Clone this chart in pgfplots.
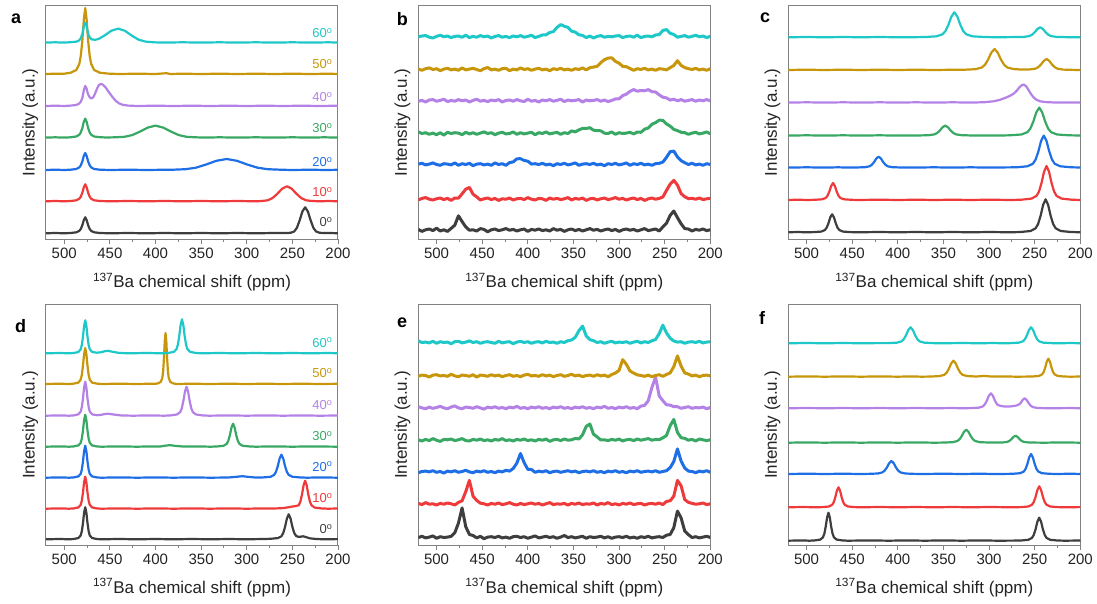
\documentclass[border=0pt]{standalone}
\usepackage{fontspec}
\setmainfont{Liberation Sans}
\usepackage{pgfplots}
\usepackage{pgfplotstable}
\pgfplotsset{compat=1.18}

\definecolor{c0}{RGB}{62,62,62}
\definecolor{c10}{RGB}{238,58,58}
\definecolor{c20}{RGB}{30,110,230}
\definecolor{c30}{RGB}{56,168,100}
\definecolor{c40}{RGB}{180,130,230}
\definecolor{c50}{RGB}{200,150,10}
\definecolor{c60}{RGB}{30,200,200}
\definecolor{axgray}{RGB}{130,130,130}
\definecolor{txt}{RGB}{35,35,35}

% noisy spectra of panel b, intensities above each trace's own baseline
\pgfplotstableread{
x k0 k10 k20 k30 k40 k50 k60
520 0.6 -1 0.2 1.4 -0.6 0.2 -0.2
516 -1.4 0.6 1 -0.2 0.2 -1 0.6
512 0.2 1.4 -0.6 0.6 -1.4 0.6 1
508 1 -0.2 0.2 -1 0.6 1.4 -0.6
504 -0.6 -1 1.4 0.2 1 -0.2 -1.4
500 1.8 0.2 -0.2 -1.4 -0.6 0.6 0.2
496 -1 1 -1 0.6 0.2 -1.4 1.4
492 0.2 -0.6 0.6 -1.8 1.4 0.2 -0.2
488 -1.4 0.6 0.2 1 -1 1 0.6
484 1.6 -1.4 -0.6 -0.2 0.2 -0.6 -1
480 4.8 1 1.4 0.6 -0.6 0.2 0.2
476 14.2 0.9 -1 0.2 1 -1 0.6
472 8.4 5.2 0.6 -1.4 -0.2 1.4 -0.6
468 3.1 9.8 -0.2 1 0.6 -0.6 1.4
464 -0.2 11.6 1 -0.6 -1.4 0.2 -1
460 0.2 4.8 -1.4 0.6 0.2 1 0.2
456 -1 2.1 0.2 -1 1.4 -0.2 -0.6
452 1.4 -1 0.6 0.2 -0.6 -1.4 1
448 0.6 0.2 -0.6 1.4 0.2 0.6 -0.2
444 -1.8 1 0.2 -0.2 -1 1.8 0.6
440 0.2 -0.6 -1 0.6 0.6 -0.6 -1.4
436 1 0.6 1.4 -1.4 -0.2 0.2 0.2
432 -0.6 -1.4 -0.2 0.2 1 -1 1
428 0.2 0.2 0.6 1 -1.4 0.6 -0.6
424 1.4 -0.2 -1 -0.6 0.2 1 0.2
420 -0.2 1 1.7 -0.2 0.6 -1.4 -1
416 0.6 -1 2.4 1.4 -0.6 0.2 0.6
412 -1 0.2 5.5 -1 1 -0.6 -0.2
408 0.2 0.6 5.6 0.6 -0.2 1.4 1
404 1 -0.6 3.8 -0.6 -1 -0.2 -0.6
400 -1.4 1.4 3.1 0.2 1.4 0.6 0.2
396 0.6 -0.2 0.2 1 -0.6 -1 1.4
392 -0.2 -1 0.6 -1.4 0.2 0.2 -1
388 1 0.6 -0.2 0.6 -1.4 1 0.2
384 -0.6 0.2 1 -0.2 0.6 -0.6 1.6
380 0.2 -1.4 -0.6 1.4 -0.2 0.2 1.8
376 -1 1 0.2 -0.6 1 -1.4 4.1
372 1.4 -0.2 -1.4 0.2 -0.6 0.6 5
368 -0.2 0.6 0.6 1 0.2 -0.2 9.2
364 0.6 -0.6 -0.2 -1 1.4 1 12
360 -1.4 0.2 1 0.6 -1 -0.6 10.4
356 0.2 1.4 -0.6 -0.2 0.6 0.2 9.2
352 1 -1 0.2 2.4 -0.2 -1 5.4
348 -0.6 0.6 1.4 1.4 0.2 0.6 4.5
344 0.6 -0.2 -1 3.4 1 -0.2 1.8
340 -1 1 0.2 4.9 -1.4 1.4 1.2
336 0.2 -1.4 0.6 4.8 0.6 -0.6 -1
332 1.4 0.2 -0.2 5.6 -0.2 1.6 0.6
328 -0.2 0.6 1 3.1 0.2 2.2 -1.4
324 0.6 -1 -0.6 2.7 1 3 0.2
320 -1 0.2 0.2 2.5 -0.6 6.7 1
316 0.2 1 -1.4 0.1 0.6 9.6 -0.6
312 1 -0.6 0.6 -0.2 -1 11.2 0.2
308 -0.6 0.2 -0.2 1.4 0.2 11.5 -0.2
304 0.6 1.4 1 -1 1.6 7.9 0.6
300 -1.4 -0.2 -0.6 0.6 1.8 6.2 1
296 0.2 0.6 0.2 -0.2 5 2.9 -1
292 1 -1 1.4 0.2 6.4 2.6 0.2
288 -0.2 0.2 -1 1 9.2 0.8 0.6
284 0.6 1 0.6 -0.6 11 -1 -0.6
280 -1 -0.6 -0.2 1.2 9.4 0.6 1.4
276 0.2 0.6 1 1 10.1 -0.2 -1
272 1.4 -1.4 -0.6 4.1 9.8 1 0.2
268 -0.6 0.2 0.2 5.3 11 -0.6 0.6
264 0.2 1 -1 9 8.9 0.2 -0.2
260 1 -0.2 0.6 10.7 8.6 -1 1.6
256 -1 0.6 1 13.1 5.8 0.6 2
252 3.1 2 2.2 13 3.4 0.2 6.1
248 6.8 8.6 7 9.4 2.7 -0.6 7
244 14.6 14.8 12.6 7.2 0.5 1.6 3.3
240 19 18.6 13.2 3.9 1.4 3.8 2.1
236 12.4 14 7.4 2.7 -0.2 8.6 -0.6
232 6.2 5.4 3.6 1 1 3.9 0.2
228 1.4 2.2 1.6 0.6 -0.6 1.7 1
224 1 0.4 -0.2 -1 0.2 0.6 -0.6
220 -1 0.6 1 0.2 1 -0.2 0.2
216 0.6 -0.2 -0.6 1 -0.6 1 1.4
212 -0.2 1 0.2 -0.6 0.6 -0.6 -0.2
208 1 -0.6 -1 0.2 -0.2 0.2 0.6
204 -0.6 0.2 0.6 1.4 1 -1 -1
200 0.2 0.6 -0.2 -0.6 -0.2 0.6 0.2
}\tabB

% noisy spectra of panel e
\pgfplotstableread{
x k0 k10 k20 k30 k40 k50 k60
520 -0.2 0.6 -1 0.2 1 -0.6 1.4
516 1 -0.6 0.2 -1 -0.2 0.6 -0.2
512 -0.6 1.4 0.6 0.6 -1 0.2 0.2
508 0.2 -0.2 -0.2 -0.6 0.6 -1.4 -0.6
504 1.4 0.2 1 1.4 -0.6 0.6 1
500 -1 -1 -0.6 -0.2 0.2 1 -1
496 0.6 0.6 0.2 -1.4 1.4 -0.2 0.6
492 -0.2 -0.2 -1.4 0.6 -0.2 0.2 -0.2
488 0.2 1 0.6 0.2 -1 -0.6 0.2
484 0.9 0.2 -0.2 1 0.6 1.4 -1.4
480 4.5 -1 1 -0.6 1.8 -0.2 0.6
476 14.2 1.6 -0.6 0.2 -0.2 -1 1
472 29.4 3.2 0.2 1.4 -1 0.6 -0.6
468 10.6 12.4 1.4 -0.6 0.6 0.2 0.2
464 2.8 23.6 -0.2 -1 0.2 -0.6 1.4
460 1.8 7.8 -1 0.6 -0.6 1 -0.2
456 -0.6 3.6 0.6 -0.2 1 -1.4 0.6
452 1 0.8 -0.2 1 -0.2 0.6 -1
448 -1.4 0.2 1 -0.6 -1.4 0.2 0.2
444 0.2 -1 -0.6 0.2 0.6 -0.6 0.6
440 0.6 0.6 0.2 -1 -0.2 1 -0.2
436 -0.2 -0.2 -1 0.6 1 -0.2 -1
432 1 1 0.6 -0.2 -0.6 0.6 1
428 -0.6 -0.6 -0.2 1.4 0.2 -1 -0.6
424 0.2 0.2 1.4 -0.6 -1 0.2 0.2
420 -1 1.4 0.6 0.2 0.6 1 0.6
416 0.6 -0.2 3.2 -1 -0.2 -0.6 -1.4
412 1 -1 8.6 0.6 1.4 0.2 0.2
408 -0.2 0.6 18.2 -0.2 -0.6 -1 1
404 0.6 -0.6 9 1 0.2 0.6 -0.2
400 -1 0.2 2.4 -0.6 -1 1.4 0.6
396 0.2 1 2.2 0.2 0.6 -0.2 -1
392 1.4 -0.2 -0.6 -1 -0.2 0.2 0.2
388 -0.6 0.6 0.6 0.6 1 -0.6 0.6
384 0.2 -1 -0.2 -0.2 -0.6 1 -0.6
380 1 0.2 1 1 0.2 -0.2 1
376 -0.2 1.4 -1 -1.4 -1 0.6 -0.2
372 0.6 -0.6 0.2 0.2 0.6 -1 0.2
368 -1 0.2 0.6 0.6 -0.2 0.2 -1
364 0.2 -0.2 -0.6 -0.6 1 1 0.6
360 1.8 0.6 0.2 1 -0.6 -0.6 -0.2
356 -0.2 -1 1 -0.2 0.2 0.2 1.6
352 0.6 0.6 -0.2 0.2 -1 1.4 2.3
348 -0.6 -0.2 0.6 1.6 0.6 -0.2 5
344 0.2 1 -1 1 -0.2 0.6 11.6
340 1 -0.6 0.2 5.2 1 -1 16.2
336 -1 0.2 0.6 13.6 -0.6 0.2 6.4
332 0.6 -0.2 -0.2 16 0.2 0.6 2.7
328 -0.2 1 1 5.8 -1 -0.6 1.6
324 0.2 -1 -0.6 3.1 0.6 1 -0.2
320 1 0.6 0.2 0 -0.2 -0.2 0.6
316 -0.6 -0.2 -1 0.2 1.4 0.6 -1
312 0.6 1.4 0.6 -0.6 -0.6 -1 0.2
308 -1 -0.6 -0.2 0.6 0.2 1.2 1
304 0.2 0.2 1 -0.2 -1 2.6 -0.6
300 0.6 -1 -0.6 1 0.6 5.3 0.2
296 -0.2 0.6 0.2 -1 -0.2 16 -0.2
292 1 -0.2 -1 0.2 1 11.4 0.6
288 -0.6 1 0.6 0.6 -0.6 4.7 -1
284 0.2 -0.6 -0.2 -0.6 0.2 2.6 0.2
280 -1 0.2 1 1 -1 0.8 1
276 0.6 0.6 -0.6 -0.2 1.6 0.2 -0.6
272 -0.2 -1 0.2 0.6 2.3 -0.6 0.6
268 1 0.2 0.6 1.4 7 0.6 -0.2
264 -0.6 0.6 -0.2 -0.2 20.2 -1 1.6
260 0.2 -0.2 1 0.6 30.6 0.2 2.8
256 0.6 1 -0.6 0.4 11.8 1 8.6
252 -0.2 -0.6 0.2 2.2 7 -0.6 17.2
248 2.1 2.6 1 4.6 2.9 1.2 9.4
244 2.8 3.2 4.1 14.2 2.6 2.8 4.1
240 9.6 7.8 10.2 20.6 1 9 1.3
236 26.2 23.6 22.8 7.6 1 19.8 0.2
232 19.4 18.2 10.6 2.3 -0.6 9.6 0.6
228 6.2 4.4 3.7 1.6 0.2 2.8 -1
224 2.6 1.7 0.6 -0.2 1 1.6 0.2
220 -0.2 0.6 0.2 0.6 -0.6 -0.2 0.6
216 0.6 -0.2 -1 -1 0.2 0.6 -0.2
212 -0.6 0.2 0.6 1 -0.2 -1 1
208 0.2 1 -0.2 0.2 0.6 0.2 -0.6
204 1 -0.6 1 -0.6 -1 0.6 0.2
200 -0.2 0.2 -0.6 0.2 0.2 -0.2 0.6
}\tabE

\pgfplotsset{
  nmr/.style={
    scale only axis, width=292pt,
    xmin=200, xmax=520, x dir=reverse, ymin=0,
    xtick={200,250,...,500}, minor x tick num=1,
    ytick=\empty, xtick pos=left,
    tick align=outside,
    major tick length=5pt, minor tick length=3pt,
    every tick/.style={axgray, line width=0.9pt},
    axis line style={axgray, line width=1pt},
    tick label style={font=\fontsize{15}{18}\selectfont, text=txt},
    /pgf/number format/assume math mode=true,
    xlabel={\textsuperscript{137}Ba chemical shift (ppm)},
    ylabel={Intensity (a.u.)},
    label style={font=\fontsize{17}{20}\selectfont, text=txt},
    xlabel style={at={(axis description cs:0.5,0)}, anchor=base, yshift=-48pt},
    ylabel style={at={(axis description cs:-0.054,0.5)}, anchor=center},
    every axis plot/.append style={line width=2.2pt, line join=round},
  },
  noisy/.style={every axis plot/.append style={line width=3pt}},
  base/.style={y filter/.expression={y+#1}},
}
\tikzset{deg/.style={anchor=east, font=\fontsize{13}{15}\selectfont}}

\begin{document}
\begin{tikzpicture}
\path[use as bounding box] (0pt,0pt) rectangle (1097pt,603pt);

% ---------------- panel a ----------------
\begin{axis}[nmr, at={(46pt,363.7pt)}, anchor=south west, height=234pt, ymax=234]
\addplot[c0, base=6] coordinates {(520,0)(510,0.3)(500,0)(493,0.3)(486.8,1)(483.5,2.4)(481.9,4.3)(480.2,8)(478.6,13.1)(477,16)(475.4,13.1)(473.8,8)(472.1,4.3)(470.5,2.4)(467.3,1)(461,0.3)(450,0)(430,0.3)(410,0)(390,0.3)(370,0)(350,0.3)(330,0)(310,0.3)(290,0)(270,0.3)(256,0.2)(251.6,0.6)(248,1.8)(245,5.5)(242,13)(239,21.8)(236,26)(233,21.8)(230,13)(227,5.5)(224,1.8)(220.4,0.6)(216,0.2)(208,0.3)(200,0)};
\addplot[c10, base=38] coordinates {(520,0)(510,0.3)(500,0)(493,0.3)(486.8,1)(483.5,2.6)(481.9,4.6)(480.2,8.5)(478.6,13.9)(477,17)(475.4,13.9)(473.8,8.5)(472.1,4.6)(470.5,2.6)(467.3,1)(461,0.3)(450,0)(430,0.3)(410,0)(390,0.3)(370,0)(350,0.3)(330,0)(310,0.3)(290,0)(283.3,0.3)(277,1)(271.75,3.2)(266.5,7.5)(261.25,12.6)(256,15)(250.75,12.6)(245.5,7.5)(240.25,3.2)(235,1)(228.7,0.3)(220,0)(210,0.3)(200,0)};
\addplot[c20, base=69.3] coordinates {(520,0)(510,0.3)(500,0)(493,0.3)(486.8,1)(483.5,2.6)(481.9,4.6)(480.2,8.5)(478.6,13.9)(477,17)(475.4,13.9)(473.8,8.5)(472.1,4.6)(470.5,2.6)(467.3,1)(461,0.3)(450,0)(430,0.3)(410,0)(394,0.2)(380.5,0.3)(367,0.8)(355.75,2.3)(344.5,5.5)(333.25,9.2)(322,11)(310.75,9.2)(299.5,5.5)(288.25,2.3)(277,0.8)(263.5,0.3)(250,0)(230,0.3)(215,0)(200,0.2)};
\addplot[c30, base=101.7] coordinates {(520,0)(510,0.3)(500,0)(493,0.3)(486.8,1.1)(483.5,2.9)(481.9,5.1)(480.2,9.5)(478.6,15.6)(477,19)(475.4,15.6)(473.8,9.5)(472.1,5.1)(470.5,2.9)(467.3,1.1)(461,0.4)(454,0.1)(444,0.3)(434,0.8)(425.5,2.5)(417,6)(408.5,10)(400,12)(391.5,10)(383,6)(374.5,2.5)(366,0.8)(356,0.3)(346,0)(330,0.3)(310,0)(290,0.3)(270,0)(250,0.3)(230,0)(215,0.3)(200,0)};
\addplot[c40, base=133.3] coordinates {(520,0)(510,0.3)(500,0)(493,0.4)(487,1)(484,2.2)(482,4)(480,8.5)(478.5,16)(477,20)(475.5,17.5)(474,12)(472,8.5)(470,7.5)(468,9)(466,13)(464,17.5)(462,21)(460,22)(458,21.5)(455,19)(452,15)(448,10)(444,5.5)(440,2.7)(436,1.2)(430,0.4)(420,0)(400,0.3)(380,0)(360,0.3)(340,0)(320,0.3)(300,0)(280,0.3)(260,0)(240,0.3)(220,0)(200,0.3)};
\addplot[c50, base=165.3] coordinates {(520,0)(510,0.3)(500,0.3)(493,1.3)(486.75,4)(483.5,10)(481.9,18)(480.2,33)(478.6,54)(477,66)(475.4,54)(473.8,33)(472.1,18)(470.5,10)(467.25,4)(461,1.3)(452,0.4)(440,0)(420,0.3)(400,0)(388,0.8)(384,0)(370,0.3)(350,0)(330,0.3)(310,0)(290,0.3)(270,0)(250,0.3)(230,0)(210,0.3)(200,0)};
\addplot[c60, base=196.7] coordinates {(520,0)(510,0.3)(500,0)(493,0.4)(487,0.9)(484,2)(482,4)(480,9)(478.5,16.5)(477,20)(475.5,16.5)(474,9.5)(472,5)(470,3.2)(466,2.8)(462,3.8)(456,7)(448.5,11.8)(441,14)(433.5,11.8)(426,7)(418.5,2.9)(411,1)(402,0.3)(393,0)(370,0.3)(350,0)(330,0.3)(310,0)(290,0.3)(270,0)(250,0.3)(230,0)(210,0.3)(200,0)};
\node[deg, text=c60] at (axis cs:202.2,206.3) {60\textsuperscript{o}};
\node[deg, text=c50] at (axis cs:202.2,175.3) {50\textsuperscript{o}};
\node[deg, text=c40] at (axis cs:202.2,142.3) {40\textsuperscript{o}};
\node[deg, text=c30] at (axis cs:202.2,111.3) {30\textsuperscript{o}};
\node[deg, text=c20] at (axis cs:202.2,77.3) {20\textsuperscript{o}};
\node[deg, text=c10] at (axis cs:202.2,47.3) {10\textsuperscript{o}};
\node[deg, text=c0] at (axis cs:202.2,17.3) {0\textsuperscript{o}};
\end{axis}

% ---------------- panel b ----------------
\begin{axis}[nmr, noisy, at={(418.3pt,363.7pt)}, anchor=south west, height=234pt, ymax=234]
\addplot[c0, base=9.3] table[x=x, y=k0] {\tabB};
\addplot[c10, base=40.3] table[x=x, y=k10] {\tabB};
\addplot[c20, base=75] table[x=x, y=k20] {\tabB};
\addplot[c30, base=106] table[x=x, y=k30] {\tabB};
\addplot[c40, base=138.7] table[x=x, y=k40] {\tabB};
\addplot[c50, base=170] table[x=x, y=k50] {\tabB};
\addplot[c60, base=202.7] table[x=x, y=k60] {\tabB};
\end{axis}

% ---------------- panel c ----------------
\begin{axis}[nmr, at={(788.3pt,363.7pt)}, anchor=south west, height=234pt, ymax=234]
\addplot[c0, base=7] coordinates {(520,0)(510,0.3)(500,0)(492,0.2)(484,0.7)(480,2.2)(478,4.5)(476,9)(474,15)(472,18)(470,15)(468,9)(466,4.5)(464,2.2)(460,0.7)(452,0.2)(444,0)(420,0.3)(400,0)(380,0.3)(360,0)(340,0.3)(320,0)(300,0.3)(276.5,0)(265.5,0.3)(254.5,1.3)(249,4)(246.25,8.3)(243.5,16.5)(240.75,27.4)(238,33)(235.25,27.4)(232.5,16.5)(229.75,8.3)(227,4)(221.5,1.3)(210.5,0.3)(200,0)};
\addplot[c10, base=39.3] coordinates {(520,0)(510,0.3)(499,0)(491,0.2)(483,0.7)(479,2)(477,4.3)(475,8.5)(473,14)(471,17)(469,14)(467,8.5)(465,4.3)(463,2)(459,0.7)(451,0.2)(443,0)(420,0.3)(400,0)(380,0.3)(360,0)(340,0.3)(320,0)(300,0.3)(275.5,0)(264.5,0.3)(253.5,1.4)(248,4.1)(245.25,8.5)(242.5,17)(239.75,28.2)(237,34)(234.25,28.2)(231.5,17)(228.75,8.5)(226,4.1)(220.5,1.4)(209.5,0.3)(200,0)};
\addplot[c20, base=71.7] coordinates {(520,0)(500,0.3)(480,0)(465,0.3)(456,0)(446,0.1)(436,0.4)(431,1.3)(428.5,2.8)(426,5.5)(423.5,9.1)(421,11)(418.5,9.1)(416,5.5)(413.5,2.8)(411,1.3)(406,0.4)(396,0.1)(386,0)(360,0.3)(340,0)(320,0.3)(300,0)(282,0.2)(270,0.3)(258,1.3)(252,3.8)(249,8)(246,16)(243,26.6)(240,32)(237,26.6)(234,16)(231,8)(228,3.8)(222,1.3)(210,0.3)(200,0.1)};
\addplot[c30, base=103.7] coordinates {(520,0)(500,0.3)(480,0)(460,0.3)(440,0)(420,0.3)(400,0)(390,0.2)(378,0.1)(366,0.4)(360,1.2)(357,2.5)(354,5)(351,8.3)(348,10)(345,8.3)(342,5)(339,2.5)(336,1.2)(330,0.4)(318,0.1)(306,0.2)(290.5,0)(277.5,0.3)(264.5,1.1)(258,3.4)(254.75,7)(251.5,14)(248.25,23.2)(245,28)(241.75,23.2)(238.5,14)(235.25,7)(232,3.4)(225.5,1.1)(212.5,0.3)(200,0.1)};
\addplot[c40, base=136.7] coordinates {(520,0)(500,0.3)(480,0)(460,0.3)(440,0)(420,0.3)(400,0)(380,0.3)(360,0)(340,0.3)(320,0)(305,0.4)(295,1.3)(288,2.8)(282,4.8)(277,6.8)(273,9)(270,11.5)(267,15)(264,17.5)(262,18)(259.5,16.5)(257,13)(254,8.5)(251,5)(248,2.8)(244,1.3)(238,0.5)(228,0.1)(215,0.2)(200,0)};
\addplot[c50, base=169.3] coordinates {(520,0)(500,0.3)(480,0)(460,0.3)(440,0)(420,0.3)(400,0)(380,0.3)(360,0)(343,0.2)(329,0.2)(315,0.8)(308,2.5)(304.5,5.2)(301,10.5)(297.5,17.4)(294,21)(290.5,17.4)(287,10.5)(283.5,5.2)(280,2.5)(273,0.9)(265,0.5)(255,0.6)(249,1.4)(246,2.9)(243,5.6)(240,9.1)(237,11)(234,9.1)(231,5.5)(228,2.8)(225,1.3)(219,0.4)(207,0.1)(200,0)};
\addplot[c60, base=202] coordinates {(520,0)(500,0.3)(480,0)(460,0.3)(440,0)(420,0.3)(400,0)(383.5,0.1)(370.5,0.25)(357.5,1)(351,3)(347.75,6.25)(344.5,12.5)(341.25,20.75)(338,25)(334.75,20.75)(331.5,12.5)(328.25,6.25)(325,3)(318.5,1)(305.5,0.3)(295,0.1)(286,0.1)(274,0.2)(262,0.4)(256,1.2)(253,2.5)(250,5)(247,8.3)(244,10)(241,8.3)(238,5)(235,2.5)(232,1.2)(226,0.4)(214,0.1)(200,0)};
\end{axis}

% ---------------- panel d ----------------
\begin{axis}[nmr, at={(46pt,58pt)}, anchor=south west, height=240pt, ymax=240]
\addplot[c0, base=5.7] coordinates {(520,0)(505,0.3)(494.5,0)(489.5,0.3)(484.5,1.3)(482,3.8)(480.75,8)(479.5,16)(478.25,26.6)(477,32)(475.75,26.6)(474.5,16)(473.25,8)(472,3.8)(469.5,1.3)(464.5,0.3)(459.5,0)(440,0.3)(420,0)(400,0.3)(380,0)(360,0.3)(340,0)(320,0.3)(300,0)(282,0.3)(274,0.5)(266,1.2)(262,3)(260,6.25)(258,12.5)(256,20.75)(254,25)(252,20.75)(250,12.5)(248,6.4)(246,3.5)(244,2.6)(241,2.6)(238,3)(235,2.2)(231,1)(224,0.3)(215,0)(200,0.2)};
\addplot[c10, base=36.3] coordinates {(520,0)(505,0.3)(494.5,0)(489.5,0.3)(484.5,1.3)(482,3.8)(480.75,8)(479.5,16)(478.25,26.6)(477,32)(475.75,26.6)(474.5,16)(473.25,8)(472,3.8)(469.5,1.3)(464.5,0.3)(459.5,0)(440,0.3)(420,0)(400,0.3)(380,0)(360,0.3)(340,0)(320,0.3)(300,0)(280,0.3)(270,0.2)(260,0.6)(254,1.5)(250,2.2)(247,2.5)(243,3.4)(241.25,7)(239.5,14)(237.75,23.2)(236,28)(234.25,23.2)(232.5,14)(230.75,7)(229,3.4)(225.5,1.1)(218.5,0.3)(211,0)(200,0.2)};
\addplot[c20, base=67.3] coordinates {(520,0)(505,0.3)(494.5,0)(489.5,0.3)(484.5,1.3)(482,3.8)(480.75,8)(479.5,16)(478.25,26.6)(477,32)(475.75,26.6)(474.5,16)(473.25,8)(472,3.8)(469.5,1.3)(464.5,0.3)(459.5,0)(440,0.3)(420,0)(400,0.3)(380,0)(360,0.3)(340,0)(320,0.2)(310,1)(305,1.5)(300,1)(292,0.3)(282,0.3)(274,0.9)(270,2.8)(268,5.75)(266,11.5)(264,19.1)(262,23)(260,19.1)(258,11.5)(256,5.75)(254,2.8)(250,0.9)(242,0.3)(234,0)(220,0.3)(200,0)};
\addplot[c30, base=98.3] coordinates {(520,0)(505,0.3)(494.5,0)(489.5,0.3)(484.5,1.3)(482,3.8)(480.75,8)(479.5,16)(478.25,26.6)(477,32)(475.75,26.6)(474.5,16)(473.25,8)(472,3.8)(469.5,1.3)(464.5,0.3)(459.5,0)(440,0.3)(420,0)(405,0.3)(395,0.2)(388,1.2)(384,1.5)(378,0.8)(370,0.2)(355,0.3)(339.5,0)(332.5,0.25)(325.5,0.9)(322,2.8)(320.25,5.75)(318.5,11.5)(316.75,19.1)(315,23)(313.25,19.1)(311.5,11.5)(309.75,5.75)(308,2.8)(304.5,0.9)(297.5,0.3)(290.5,0)(270,0.3)(250,0)(230,0.3)(200,0)};
\addplot[c40, base=129.3] coordinates {(520,0)(505,0.3)(494.5,0)(489.5,0.3)(484.5,1.4)(482,4.1)(480.75,8.5)(479.5,17)(478.25,28.2)(477,34)(475.75,28.2)(474.5,17)(473.25,8.5)(472,4.1)(469.5,1.4)(464.5,0.5)(460,0.8)(456,1.6)(452,2)(446,1.2)(438,0.3)(425,0)(405,0.3)(390.5,0)(383.5,0.3)(376.5,1.2)(373,3.5)(371.25,7.25)(369.5,14.5)(367.75,24)(366,29)(364.25,24)(362.5,14.5)(360.75,7.25)(359,3.5)(355.5,1.2)(348.5,0.3)(341.5,0)(320,0.3)(300,0)(280,0.3)(260,0)(240,0.3)(220,0)(200,0.2)};
\addplot[c50, base=161] coordinates {(520,0)(505,0.3)(494.5,0)(489.5,0.4)(484.5,1.4)(482,4.3)(480.75,9)(479.5,18)(478.25,29.9)(477,36)(475.75,29.9)(474.5,18)(473.25,9)(472,4.3)(469.5,1.4)(464.5,0.4)(459.5,0)(440,0.3)(420,0)(405,0.3)(401.25,0.2)(397.75,0.5)(394.25,2)(392.5,6.1)(391.6,12.75)(390.75,25.5)(389.9,42.3)(389,51)(388.1,42.3)(387.25,25.5)(386.4,12.75)(385.5,6.1)(383.75,2)(380.25,0.5)(376.75,0)(360,0.3)(340,0)(320,0.3)(300,0)(280,0.3)(260,0)(240,0.3)(220,0)(200,0.2)};
\addplot[c60, base=191.7] coordinates {(520,0)(505,0.3)(494.5,0)(489.5,0.3)(484.5,1.3)(482,4)(480.75,8.3)(479.5,16.5)(478.25,27.4)(477,33)(475.75,27.4)(474.5,16.5)(473.25,8.3)(472,4)(469.5,1.4)(464.5,0.6)(460,1)(456,2)(452,2.5)(447,1.5)(440,0.4)(430,0)(410,0.3)(392,0)(386,0.35)(380,1.4)(377,4.1)(375.5,8.5)(374,17)(372.5,28.2)(371,34)(369.5,28.2)(368,17)(366.5,8.5)(365,4.1)(362,1.4)(356,0.35)(350,0)(330,0.3)(310,0)(290,0.3)(270,0)(250,0.3)(230,0)(210,0.3)(200,0)};
\node[deg, text=c60] at (axis cs:202.2,202.3) {60\textsuperscript{o}};
\node[deg, text=c50] at (axis cs:202.2,172) {50\textsuperscript{o}};
\node[deg, text=c40] at (axis cs:202.2,140) {40\textsuperscript{o}};
\node[deg, text=c30] at (axis cs:202.2,109) {30\textsuperscript{o}};
\node[deg, text=c20] at (axis cs:202.2,78.3) {20\textsuperscript{o}};
\node[deg, text=c10] at (axis cs:202.2,47) {10\textsuperscript{o}};
\node[deg, text=c0] at (axis cs:202.2,16) {0\textsuperscript{o}};
\end{axis}

% ---------------- panel e ----------------
\begin{axis}[nmr, noisy, at={(418.3pt,58pt)}, anchor=south west, height=240pt, ymax=240]
\addplot[c0, base=7.7] table[x=x, y=k0] {\tabE};
\addplot[c10, base=41] table[x=x, y=k10] {\tabE};
\addplot[c20, base=73.3] table[x=x, y=k20] {\tabE};
\addplot[c30, base=105] table[x=x, y=k30] {\tabE};
\addplot[c40, base=137.3] table[x=x, y=k40] {\tabE};
\addplot[c50, base=169.3] table[x=x, y=k50] {\tabE};
\addplot[c60, base=202.7] table[x=x, y=k60] {\tabE};
\end{axis}

% ---------------- panel f ----------------
\begin{axis}[nmr, at={(788.3pt,58pt)}, anchor=south west, height=240pt, ymax=240]
\addplot[c0, base=4.3] coordinates {(520,0)(505,0.3)(497,0)(491,0.3)(485,1.1)(482,3.4)(480.5,7)(479,14)(477.5,23.2)(476,28)(474.5,23.2)(473,14)(471.5,7)(470,3.4)(467,1.1)(461,0.3)(455,0)(430,0.3)(410,0)(390,0.3)(370,0)(350,0.3)(330,0)(310,0.3)(290,0)(273,0.1)(265,0.2)(257,0.9)(253,2.8)(251,5.75)(249,11.5)(247,19.1)(245,23)(243,19.1)(241,11.5)(239,5.75)(237,2.8)(233,0.9)(225,0.2)(217,0)(200,0.2)};
\addplot[c10, base=37.7] coordinates {(520,0)(505,0.3)(489.5,0)(482.5,0.2)(475.5,0.8)(472,2.4)(470.25,5)(468.5,10)(466.75,16.6)(465,20)(463.25,16.6)(461.5,10)(459.75,5)(458,2.4)(454.5,0.8)(447.5,0.2)(440.5,0)(420,0.3)(400,0)(380,0.3)(360,0)(340,0.3)(320,0)(300,0.3)(273,0)(265,0.2)(257,0.8)(253,2.5)(251,5.25)(249,10.5)(247,17.4)(245,21)(243,17.4)(241,10.5)(239,5.25)(237,2.5)(233,0.8)(225,0.2)(217,0)(200,0.2)};
\addplot[c20, base=71] coordinates {(520,0)(500,0.3)(480,0)(460,0.3)(442,0)(432,0.13)(422,0.5)(417,1.6)(414.5,3.25)(412,6.5)(409.5,10.8)(407,13)(404.5,10.8)(402,6.5)(399.5,3.25)(397,1.6)(392,0.5)(382,0.13)(372,0)(350,0.3)(330,0)(310,0.3)(295,0)(282,0.1)(274,0.2)(266,0.8)(262,2.4)(260,5)(258,10)(256,16.6)(254,20)(252,16.6)(250,10)(248,5)(246,2.4)(242,0.8)(234,0.2)(226,0)(210,0.3)(200,0)};
\addplot[c30, base=102.3] coordinates {(520,0)(500,0.3)(480,0)(460,0.3)(440,0)(420,0.3)(400,0)(380,0.3)(360,0)(350,0.13)(340,0.5)(335,1.6)(332.5,3.25)(330,6.5)(327.5,10.8)(325,13)(322.5,10.8)(320,6.5)(317.5,3.25)(315,1.6)(310,0.5)(300,0.2)(293.5,0.1)(284.5,0.3)(280,0.84)(277.75,1.75)(275.5,3.5)(273.25,5.8)(271,7)(268.75,5.8)(266.5,3.5)(264.25,1.75)(262,0.84)(257.5,0.3)(248.5,0.1)(239.5,0)(220,0.3)(200,0)};
\addplot[c40, base=136.7] coordinates {(520,0)(500,0.3)(480,0)(460,0.3)(440,0)(420,0.3)(400,0)(380,0.3)(360,0)(340,0.3)(329.5,0)(320.5,0.2)(311.5,0.6)(307,1.8)(304.75,3.75)(302.5,7.5)(300.25,12.5)(298,15)(295.75,12.5)(293.5,7.5)(291.25,4)(289,2.8)(285,2)(280,1.7)(275,2)(270,2.8)(267.75,3.5)(265.5,5.2)(263.25,8.3)(261,10)(258.75,8.3)(256.5,5)(254.25,2.5)(252,1.2)(247.5,0.4)(238.5,0.1)(229.5,0)(210,0.3)(200,0)};
\addplot[c50, base=168.3] coordinates {(520,0)(500,0.3)(480,0)(460,0.3)(440,0)(420,0.3)(400,0)(385,0.3)(374,0)(364,0.16)(354,0.64)(349,1.9)(346.5,4)(344,8)(341.5,13.3)(339,16)(336.5,13.3)(334,8)(331.5,4)(329,1.9)(324,0.64)(314,0.2)(305,0.8)(298,0.2)(285,0.3)(270,0)(259.5,0.1)(252.5,0.2)(245.5,0.72)(242,2.2)(240.25,4.5)(238.5,9)(236.75,15)(235,18)(233.25,15)(231.5,9)(229.75,4.5)(228,2.2)(224.5,0.72)(217.5,0.18)(210.5,0)(200,0.2)};
\addplot[c60, base=201.7] coordinates {(520,0)(500,0.3)(480,0)(460,0.3)(440,0)(421,0.2)(411,0.16)(401,0.64)(396,1.9)(393.5,4)(391,8)(388.5,13.3)(386,16)(383.5,13.3)(381,8)(378.5,4)(376,1.9)(371,0.64)(361,0.16)(351,0)(330,0.3)(310,0)(295,0.3)(285.5,0)(276.5,0.16)(267.5,0.64)(263,1.9)(260.75,4)(258.5,8)(256.25,13.3)(254,16)(251.75,13.3)(249.5,8)(247.25,4)(245,1.9)(240.5,0.64)(231.5,0.16)(222.5,0)(210,0.3)(200,0)};
\end{axis}

% panel letters
\begin{scope}[every node/.style={anchor=base west, font=\bfseries\fontsize{18}{20}\selectfont, inner sep=0pt}]
\node at (11pt,579pt) {a};
\node at (396.7pt,577pt) {b};
\node at (760pt,580pt) {c};
\node at (15pt,270pt) {d};
\node at (397pt,275pt) {e};
\node at (759pt,278pt) {f};
\end{scope}
\end{tikzpicture}
\end{document}
